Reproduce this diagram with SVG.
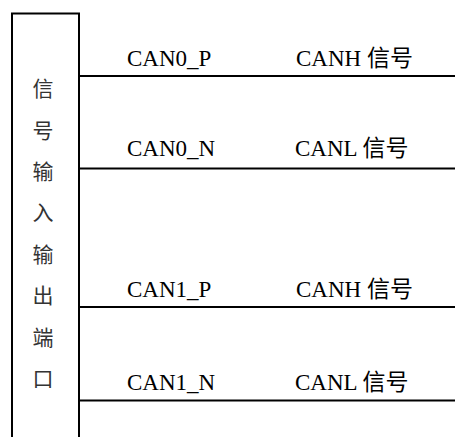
<svg xmlns="http://www.w3.org/2000/svg" width="455" height="437" viewBox="0 0 455 437">
<style>
.ln{stroke:#000;stroke-width:2;fill:none}
.t{font-family:"Liberation Serif","Noto Sans CJK SC",serif;font-size:23px;fill:#000}
.c{font-family:"Noto Sans CJK SC",sans-serif;font-size:21px;fill:#333;text-anchor:middle}
</style>
<rect width="455" height="437" fill="#fff"/>
<g id="port">
<path class="ln" d="M12,437 V13.5 H79 V437"/>
<text class="c" x="43" y="96">信</text>
<text class="c" x="43" y="137.5">号</text>
<text class="c" x="43" y="179">输</text>
<text class="c" x="43" y="220">入</text>
<text class="c" x="43" y="261.5">输</text>
<text class="c" x="43" y="303">出</text>
<text class="c" x="43" y="344.5">端</text>
<text class="c" x="43" y="386">口</text>
</g>
<g id="connectors">
<line class="ln" x1="79" y1="76" x2="455" y2="76"/>
<line class="ln" x1="79" y1="168.5" x2="455" y2="168.5"/>
<line class="ln" x1="79" y1="307" x2="455" y2="307"/>
<line class="ln" x1="79" y1="400.5" x2="455" y2="400.5"/>
</g>
<g id="can0p"><text class="t" x="127" y="66">CAN0_P</text><text class="t" x="296" y="66">CANH 信号</text></g>
<g id="can0n"><text class="t" x="127" y="155.5">CAN0_N</text><text class="t" x="295" y="155.5">CANL 信号</text></g>
<g id="can1p"><text class="t" x="127" y="297">CAN1_P</text><text class="t" x="296" y="297">CANH 信号</text></g>
<g id="can1n"><text class="t" x="127" y="390">CAN1_N</text><text class="t" x="295" y="390">CANL 信号</text></g>
</svg>
